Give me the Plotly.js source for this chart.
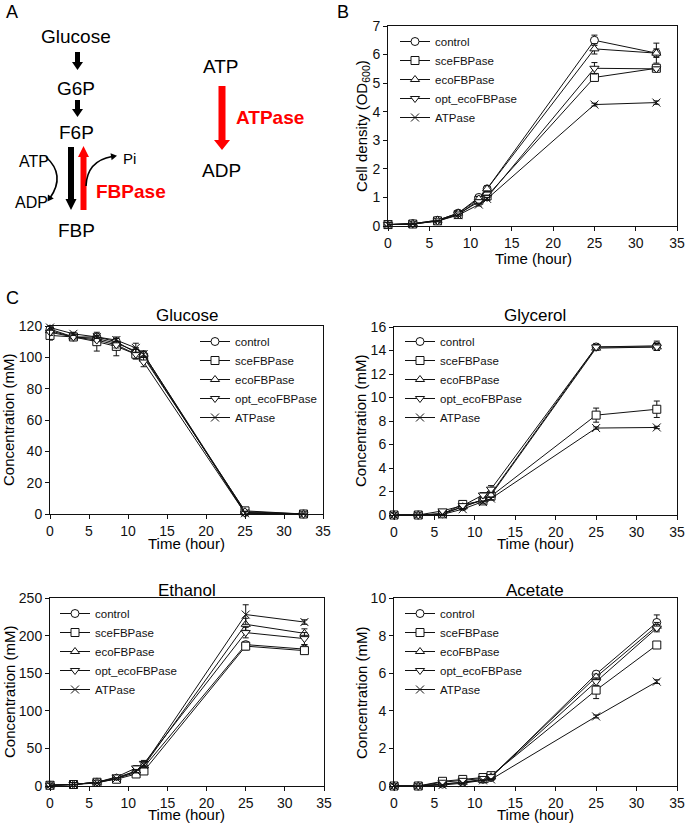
<!DOCTYPE html>
<html><head><meta charset="utf-8">
<script src="https://cdn.plot.ly/plotly-3.0.1.min.js"></script>
<style>html,body{margin:0;padding:0;background:#fff}#chart{width:685px;height:825px}</style>
</head><body><div id="chart"></div>
<script>
const W = 685, H = 825;
const FONT = 'Liberation Sans, Arial, sans-serif';

// ---------------- data ----------------
const timeH = [0, 3, 6, 8.5, 11, 12, 25, 32.5];
const strains = ['control', 'sceFBPase', 'ecoFBPase', 'opt_ecoFBPase', 'ATPase'];
const symbols = ['circle', 'square', 'triangle-up', 'triangle-down', 'x-thin'];

// B: cell density OD600
const odControl = [0.05, 0.08, 0.20, 0.45, 1.00, 1.30, 6.50, 6.05];
const odSce     = [0.05, 0.07, 0.18, 0.40, 0.90, 1.05, 5.20, 5.52];
const odEco     = [0.05, 0.08, 0.20, 0.45, 0.95, 1.30, 6.20, 6.05];
const odOpt     = [0.05, 0.07, 0.18, 0.42, 0.85, 1.00, 5.52, 5.50];
const odAtp     = [0.05, 0.07, 0.17, 0.38, 0.75, 0.95, 4.25, 4.32];
const odControlErr = [0.02, 0.02, 0.03, 0.05, 0.08, 0.10, 0.18, 0.35];
const odSceErr     = [0.02, 0.02, 0.02, 0.04, 0.05, 0.05, 0.12, 0.08];
const odEcoErr     = [0.02, 0.02, 0.03, 0.05, 0.08, 0.10, 0.18, 0.15];
const odOptErr     = [0.02, 0.02, 0.03, 0.05, 0.06, 0.08, 0.20, 0.06];
const odAtpErr     = [0.02, 0.02, 0.02, 0.04, 0.05, 0.05, 0.05, 0.06];

// C: glucose (mM)
const gluControl = [118, 113, 113, 110, 103, 101, 1.0, 0];
const gluSce     = [114, 113, 110, 107, 102, 100, 2.0, 0];
const gluEco     = [117, 113, 112, 109, 104, 102, 1.5, 0];
const gluOpt     = [116, 113, 111, 108, 102, 97, 0.5, 0];
const gluAtp     = [119, 115, 113, 111, 106, 102, 0.5, 0];
const gluControlErr = [2, 1, 1, 1, 3, 2, 1, 0];
const gluSceErr     = [3, 1, 6, 6, 3, 2, 1, 0];
const gluEcoErr     = [2, 1, 1, 1, 2, 2, 1, 0];
const gluOptErr     = [2, 1, 1, 2, 3, 3, 1, 0];
const gluAtpErr     = [1, 1, 1, 1, 3, 2, 1, 0];

// C: glycerol (mM)
const glyControl = [0, 0, 0.10, 0.70, 1.30, 1.80, 14.30, 14.40];
const glySce     = [0, 0, 0.10, 0.90, 1.20, 1.60, 8.50, 9.00];
const glyEco     = [0, 0, 0.10, 0.70, 1.30, 1.70, 14.20, 14.30];
const glyOpt     = [0, 0, 0.35, 0.80, 1.70, 2.20, 14.30, 14.30];
const glyAtp     = [0, 0, 0.05, 0.50, 1.10, 1.40, 7.40, 7.45];
const glyControlErr = [0, 0, 0.05, 0.10, 0.10, 0.15, 0.30, 0.40];
const glySceErr     = [0, 0, 0.05, 0.10, 0.10, 0.20, 0.60, 0.70];
const glyEcoErr     = [0, 0, 0.05, 0.10, 0.10, 0.15, 0.20, 0.30];
const glyOptErr     = [0, 0, 0.10, 0.10, 0.20, 0.30, 0.20, 0.30];
const glyAtpErr     = [0, 0, 0.00, 0.05, 0.10, 0.10, 0.10, 0.10];

// C: ethanol (mM)
const ethControl = [1, 2, 5, 10, 18, 25, 188, 182];
const ethSce     = [1, 2, 5, 9, 16, 20, 186, 180];
const ethEco     = [1, 2, 5, 11, 20, 27, 215, 203];
const ethOpt     = [1, 2, 5, 12, 24, 30, 204, 196];
const ethAtp     = [1, 2, 4, 10, 20, 28, 228, 218];
const ethControlErr = [0.5, 0.5, 1, 1, 2, 3, 4, 6];
const ethSceErr     = [0.5, 0.5, 1, 1, 2, 3, 5, 4];
const ethEcoErr     = [0.5, 0.5, 1, 1, 2, 3, 8, 6];
const ethOptErr     = [0.5, 0.5, 1, 2, 3, 4, 7, 8];
const ethAtpErr     = [0.5, 0.5, 1, 1, 2, 3, 13, 3];

// C: acetate (mM)
const aceControl = [0, 0, 0.10, 0.20, 0.35, 0.45, 5.95, 8.70];
const aceSce     = [0, 0, 0.25, 0.35, 0.45, 0.55, 5.10, 7.50];
const aceEco     = [0, 0, 0.10, 0.20, 0.30, 0.50, 5.80, 8.50];
const aceOpt     = [0, 0, 0.20, 0.30, 0.40, 0.50, 5.55, 8.40];
const aceAtp     = [0, 0, 0.05, 0.15, 0.30, 0.35, 3.70, 5.55];
const aceControlErr = [0, 0, 0.02, 0.03, 0.05, 0.05, 0.15, 0.40];
const aceSceErr     = [0, 0, 0.03, 0.05, 0.05, 0.05, 0.45, 0.10];
const aceEcoErr     = [0, 0, 0.02, 0.03, 0.05, 0.05, 0.15, 0.20];
const aceOptErr     = [0, 0, 0.03, 0.03, 0.05, 0.05, 0.20, 0.20];
const aceAtpErr     = [0, 0, 0.01, 0.02, 0.03, 0.03, 0.08, 0.10];

// ---------------- helpers ----------------
function fx(x) { return x / W; }
function fy(y) { return 1 - y / H; }

function series(vals, errs, xa, ya, leg) {
  return vals.map((v, i) => ({
    type: 'scatter', mode: 'lines+markers',
    x: timeH, y: v, name: strains[i],
    xaxis: xa, yaxis: ya, legend: leg,
    cliponaxis: false,
    line: { color: '#111', width: 1 },
    marker: {
      symbol: symbols[i], size: 8,
      color: symbols[i] === 'x-thin' ? '#111' : '#fff',
      line: { color: '#111', width: 1 }
    },
    error_y: { type: 'data', array: errs[i], visible: true, color: '#111', thickness: 1, width: 3 }
  }));
}

const traces = [].concat(
  series([odControl, odSce, odEco, odOpt, odAtp], [odControlErr, odSceErr, odEcoErr, odOptErr, odAtpErr], 'x', 'y', 'legend'),
  series([gluControl, gluSce, gluEco, gluOpt, gluAtp], [gluControlErr, gluSceErr, gluEcoErr, gluOptErr, gluAtpErr], 'x2', 'y2', 'legend2'),
  series([glyControl, glySce, glyEco, glyOpt, glyAtp], [glyControlErr, glySceErr, glyEcoErr, glyOptErr, glyAtpErr], 'x3', 'y3', 'legend3'),
  series([ethControl, ethSce, ethEco, ethOpt, ethAtp], [ethControlErr, ethSceErr, ethEcoErr, ethOptErr, ethAtpErr], 'x4', 'y4', 'legend4'),
  series([aceControl, aceSce, aceEco, aceOpt, aceAtp], [aceControlErr, aceSceErr, aceEcoErr, aceOptErr, aceAtpErr], 'x5', 'y5', 'legend5')
);

function axisBase() {
  return {
    ticks: 'outside', ticklen: 4, tickwidth: 1, tickcolor: '#111',
    showline: true, linecolor: '#111', linewidth: 1, mirror: true,
    showgrid: false, zeroline: false, fixedrange: true,
    ticklabeloverflow: 'allow',
    tickfont: { family: FONT, size: 14, color: '#111' }
  };
}
function xAxis(l, r, anchor) {
  return Object.assign(axisBase(), {
    domain: [fx(l), fx(r)], anchor: anchor, range: [0, 35], dtick: 5, tick0: 0
  });
}
function yAxis(t, b, anchor, max, dt) {
  return Object.assign(axisBase(), {
    domain: [fy(b), fy(t)], anchor: anchor, range: [0, max], dtick: dt, tick0: 0
  });
}
function legendAt(x, y) {
  return {
    x: fx(x), y: fy(y), xanchor: 'left', yanchor: 'top',
    bgcolor: 'rgba(0,0,0,0)', borderwidth: 0, tracegroupgap: 0,
    font: { family: FONT, size: 11.5, color: '#111' }
  };
}

// ---------------- panel A diagram ----------------
function poly(pts) {
  return 'M' + pts.map(p => fx(p[0]) + ',' + fy(p[1])).join(' L') + ' Z';
}
function quad(p0, c, p1) {
  return 'M' + fx(p0[0]) + ',' + fy(p0[1]) + ' Q' + fx(c[0]) + ',' + fy(c[1]) + ' ' + fx(p1[0]) + ',' + fy(p1[1]);
}
function head(tip, dir, len, hw) {
  const m = Math.hypot(dir[0], dir[1]); const d = [dir[0] / m, dir[1] / m];
  const n = [-d[1], d[0]];
  const b = [tip[0] - d[0] * len, tip[1] - d[1] * len];
  return poly([tip, [b[0] + n[0] * hw, b[1] + n[1] * hw], [b[0] - n[0] * hw, b[1] - n[1] * hw]]);
}
const RED = '#ff0000';
function filled(path, col) {
  return { type: 'path', xref: 'paper', yref: 'paper', path: path, fillcolor: col, line: { width: 0 }, layer: 'above' };
}
function stroke(path, col, w) {
  return { type: 'path', xref: 'paper', yref: 'paper', path: path, line: { color: col, width: w } };
}
const shapes = [
  filled(poly([[75, 52], [80, 52], [80, 62], [83, 62], [77.5, 70], [72, 62], [75, 62]]), '#000'),
  filled(poly([[75, 100], [80, 100], [80, 109], [83, 109], [77.5, 117], [72, 109], [75, 109]]), '#000'),
  filled(poly([[68, 147], [74, 147], [74, 199], [76.5, 199], [71, 210], [65.5, 199], [68, 199]]), '#000'),
  filled(poly([[80.5, 210], [86.5, 210], [86.5, 157], [89, 157], [83.5, 146], [78, 157], [80.5, 157]]), RED),
  filled(poly([[218.5, 86], [225.5, 86], [225.5, 140], [230, 140], [222, 150], [214, 140], [218.5, 140]]), RED),
  stroke(quad([46, 157], [66, 175], [50, 198]), '#000', 1.6),
  filled(head([47.5, 201.5], [-16, 24], 6, 3.5), '#000'),
  stroke(quad([86, 186], [87, 161], [112, 156.5]), '#000', 1.6),
  filled(head([117, 155.8], [26, -4], 6, 3.5), '#000')
];

function txt(s, x, y, size, opts) {
  return Object.assign({
    text: s, xref: 'paper', yref: 'paper', x: fx(x), y: fy(y),
    xanchor: 'center', yanchor: 'middle', showarrow: false,
    font: { family: FONT, size: size, color: '#000' }
  }, opts || {});
}
const annotations = [
  txt('A', 12, 12, 18),
  txt('B', 343, 12, 18),
  txt('C', 12, 298, 18),
  txt('Glucose', 76, 37, 19),
  txt('G6P', 76, 88, 19),
  txt('F6P', 76, 132, 19),
  txt('FBP', 76, 230, 19),
  txt('ATP', 34, 161, 16),
  txt('ADP', 32, 202, 16),
  txt('Pi', 129, 158, 15),
  txt('<b>FBPase</b>', 131, 192, 19, { font: { family: FONT, size: 19, color: RED } }),
  txt('ATP', 221, 67, 19),
  txt('<b>ATPase</b>', 270, 117, 19, { font: { family: FONT, size: 19, color: RED } }),
  txt('ADP', 221, 170, 19),
  // subplot titles
  txt('Glucose', 187, 315, 17),
  txt('Glycerol', 535, 315, 17),
  txt('Ethanol', 187, 590, 17),
  txt('Acetate', 535, 590, 17),
  // axis titles
  txt('Time (hour)', 533, 258, 15),
  txt('Time (hour)', 187, 543, 15),
  txt('Time (hour)', 535, 543, 15),
  txt('Time (hour)', 187, 814, 15),
  txt('Time (hour)', 535, 814, 15),
  txt('Cell density (OD<sub>600</sub>)', 363, 126, 15, { textangle: -90 }),
  txt('Concentration (mM)', 9, 420, 15, { textangle: -90 }),
  txt('Concentration (mM)', 361, 420, 15, { textangle: -90 }),
  txt('Concentration (mM)', 9, 692, 15, { textangle: -90 }),
  txt('Concentration (mM)', 361, 692, 15, { textangle: -90 })
];

const layout = {
  width: W, height: H,
  margin: { l: 0, r: 0, t: 0, b: 0 },
  paper_bgcolor: '#fff', plot_bgcolor: '#fff',
  font: { family: FONT, color: '#111' },
  showlegend: true,
  xaxis: xAxis(388, 677, 'y'),
  yaxis: yAxis(26, 226, 'x', 7, 1),
  xaxis2: xAxis(50, 323, 'y2'),
  yaxis2: yAxis(326, 514, 'x2', 120, 20),
  xaxis3: xAxis(394, 677, 'y3'),
  yaxis3: yAxis(327, 515, 'x3', 16, 2),
  xaxis4: xAxis(50, 324, 'y4'),
  yaxis4: yAxis(598, 786, 'x4', 250, 50),
  xaxis5: xAxis(394, 677, 'y5'),
  yaxis5: yAxis(598, 786, 'x5', 10, 2),
  legend: legendAt(395, 27),
  legend2: legendAt(195, 327),
  legend3: legendAt(400, 327),
  legend4: legendAt(55, 599),
  legend5: legendAt(400, 599),
  shapes: shapes,
  annotations: annotations
};

Plotly.newPlot('chart', traces, layout, { displayModeBar: false, staticPlot: true });
</script>
</body></html>
